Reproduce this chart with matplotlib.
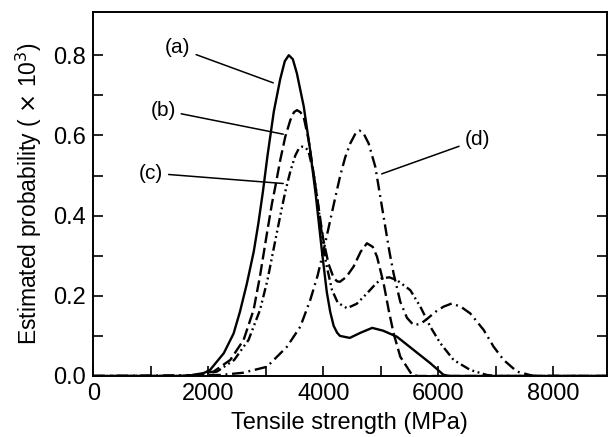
import matplotlib
matplotlib.use("Agg")
import matplotlib.pyplot as plt

plt.rcParams["font.family"] = ["Liberation Sans", "DejaVu Sans"]

# --------------------------------------------------------------------------
# Data (tensile strength in MPa, probability x 10^3)
# --------------------------------------------------------------------------
a_x = [0, 1500, 1860, 2030, 2270, 2440, 2550, 2670, 2790, 2870, 2950, 3030,
       3140, 3250, 3330, 3400, 3470, 3540, 3660, 3770, 3870, 3977, 4060,
       4120, 4180, 4240, 4290, 4460, 4650, 4850, 5040, 5280, 5570, 5860,
       6090, 6200, 9000]
a_y = [0, 0, 0.003, 0.015, 0.057, 0.106, 0.16, 0.23, 0.31, 0.38, 0.46, 0.55,
       0.66, 0.74, 0.785, 0.80, 0.79, 0.755, 0.672, 0.564, 0.45, 0.31, 0.21,
       0.16, 0.125, 0.108, 0.100, 0.095, 0.108, 0.12, 0.113, 0.098, 0.065,
       0.032, 0.003, 0, 0]

b_x = [0, 1600, 2092, 2382, 2614, 2788, 2900, 3020, 3107, 3165, 3252, 3339,
       3426, 3490, 3542, 3600, 3657, 3744, 3831, 3918, 4000, 4090, 4179,
       4240, 4290, 4400, 4527, 4650, 4759, 4860, 4933, 5049, 5136, 5223,
       5339, 5542, 5650, 9000]
b_y = [0, 0, 0.011, 0.04, 0.09, 0.165, 0.25, 0.356, 0.43, 0.472, 0.539,
       0.597, 0.638, 0.658, 0.663, 0.658, 0.647, 0.589, 0.505, 0.42, 0.34,
       0.28, 0.245, 0.236, 0.235, 0.247, 0.273, 0.31, 0.331, 0.322, 0.298,
       0.231, 0.165, 0.106, 0.048, 0.003, 0, 0]

c_x = [0, 1700, 2150, 2450, 2700, 2900, 3030, 3140, 3252, 3339, 3426, 3513,
       3570, 3629, 3690, 3744, 3831, 3889, 3950, 4050, 4150, 4250, 4411,
       4580, 4759, 4900, 5020, 5150, 5281, 5513, 5687, 5861, 6034, 6266,
       6556, 6846, 7000, 9000]
c_y = [0, 0, 0.011, 0.04, 0.09, 0.165, 0.24, 0.32, 0.40, 0.46, 0.51, 0.55,
       0.566, 0.572, 0.570, 0.560, 0.505, 0.45, 0.38, 0.28, 0.215, 0.183,
       0.169, 0.18, 0.206, 0.228, 0.244, 0.246, 0.239, 0.214, 0.173, 0.123,
       0.082, 0.04, 0.015, 0.0025, 0, 0]

d_x = [0, 2206, 2600, 3020, 3368, 3600, 3774, 3900, 4000, 4100, 4200, 4295,
       4380, 4469, 4560, 4631, 4700, 4788, 4904, 4991, 5078, 5150, 5223,
       5339, 5455, 5570, 5690, 5802, 5950, 6092, 6237, 6400, 6556, 6788,
       6962, 7136, 7368, 7657, 9000]
d_y = [0, 0.0025, 0.008, 0.023, 0.073, 0.123, 0.19, 0.25, 0.31, 0.375, 0.44,
       0.50, 0.545, 0.58, 0.605, 0.612, 0.605, 0.58, 0.522, 0.447, 0.372,
       0.31, 0.255, 0.185, 0.145, 0.127, 0.13, 0.142, 0.16, 0.173, 0.181,
       0.172, 0.156, 0.115, 0.073, 0.04, 0.011, 0, 0]

# (label, text position, line end) in data coordinates
labels = [
    ("(a)", (1473, 0.818), (3130, 0.731)),
    ("(b)", (1212, 0.663), (3304, 0.603)),
    ("(c)", (1003, 0.506), (3304, 0.480)),
    ("(d)", (6676, 0.589), (5015, 0.504)),
]

x_ticks = [0, 2000, 4000, 6000, 8000]
y_ticks = [0.0, 0.2, 0.4, 0.6, 0.8]

# --------------------------------------------------------------------------
# Plot
# --------------------------------------------------------------------------
fig = plt.figure(figsize=(6.08, 4.37), dpi=100)
ax = fig.add_axes([93.3 / 608, 1 - 376 / 437, (606.5 - 93.3) / 608,
                   (376 - 11.7) / 437])

lw = 1.7
ax.plot(a_x, a_y, color="black", linewidth=lw, linestyle="-")
ax.plot(b_x, b_y, color="black", linewidth=lw, linestyle=(0, (5, 2)))
ax.plot(c_x, c_y, color="black", linewidth=lw,
        linestyle=(0, (4, 1.5, 0.8, 1.5, 0.8, 1.5)))
ax.plot(d_x, d_y, color="black", linewidth=lw,
        linestyle=(0, (5, 2, 0.8, 2)))

for text, xy_text, xy_end in labels:
    ax.annotate(text, xy=xy_end, xytext=xy_text, fontsize=15,
                ha="center", va="center",
                arrowprops=dict(arrowstyle="-", color="black", lw=1.1,
                                shrinkA=2, shrinkB=0))

ax.set_xlim(0, 8925)
ax.set_ylim(0, 0.9085)
ax.set_xticks(x_ticks)
ax.set_xticks([1000, 3000, 5000, 7000], minor=True)
ax.set_yticks(y_ticks)
ax.set_yticks([0.1, 0.3, 0.5, 0.7], minor=True)
ax.set_yticklabels([f"{v:.1f}" for v in y_ticks])

ax.tick_params(axis="both", which="both", direction="in", length=7,
               width=1.2, labelsize=17, pad=5)
ax.tick_params(axis="y", which="both", right=True)

for spine in ax.spines.values():
    spine.set_linewidth(1.4)

ax.set_xlabel("Tensile strength (MPa)", fontsize=17, labelpad=5)
ax.set_ylabel("Estimated probability ( $\\times$ 10$^{3}$)", fontsize=16.5,
              labelpad=7)

plt.savefig("out.png", dpi=100)
plt.close()
